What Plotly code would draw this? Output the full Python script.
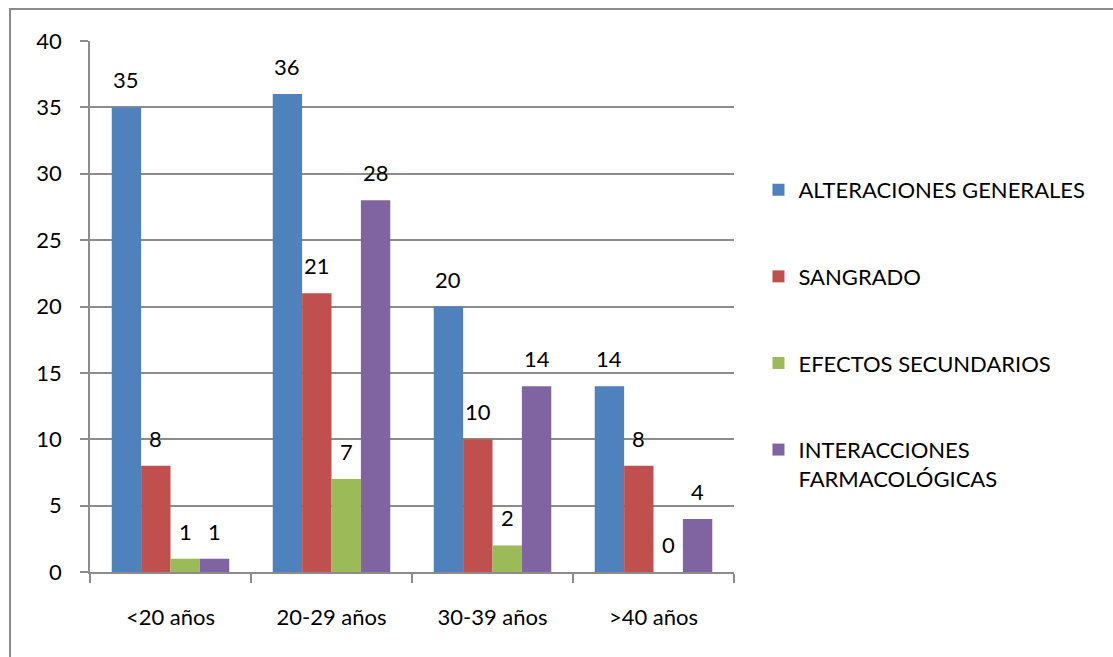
import plotly.graph_objects as go

# Age groups on the x axis
categorias = ["<20 años", "20-29 años", "30-39 años", ">40 años"]

# Counts per age group for each type of event
alteraciones_generales = [35, 36, 20, 14]
sangrado = [8, 21, 10, 8]
efectos_secundarios = [1, 7, 2, 0]
interacciones_farmacologicas = [1, 28, 14, 4]

series_nombres = [
    "ALTERACIONES GENERALES",
    "SANGRADO",
    "EFECTOS SECUNDARIOS",
    "INTERACCIONES<br>FARMACOLÓGICAS",
]
series_valores = [alteraciones_generales, sangrado, efectos_secundarios, interacciones_farmacologicas]
colores = ["#4F81BD", "#C0504D", "#9BBB59", "#8064A2"]

y_ticks = [0, 5, 10, 15, 20, 25, 30, 35, 40]

FONT = "Lato, 'Open Sans', sans-serif"
FS = 22
W, H = 1113, 657
M_L, M_R, M_T, M_B = 90, 379, 41, 85
BARGAP = 0.27
GRID = "#8C8C8C"

fig = go.Figure()
for i, (nombre, vals, col) in enumerate(zip(series_nombres, series_valores, colores)):
    fig.add_trace(go.Bar(
        x=categorias, y=vals, name=nombre,
        marker=dict(color=col, line=dict(width=0)),
        legendgroup=f"g{i}",
    ))

# Value labels above each bar: horizontal shift follows the grouped bar slots
plot_w = W - M_L - M_R
cat_w = plot_w / len(categorias)
bar_w = cat_w * (1 - BARGAP) / len(series_valores)
n = len(series_valores)
for i, vals in enumerate(series_valores):
    shift = (i - (n - 1) / 2) * bar_w
    for cat, v in zip(categorias, vals):
        fig.add_annotation(
            x=cat, y=v, text=str(v), showarrow=False,
            xanchor="center", yanchor="bottom",
            xshift=shift, yshift=12,
            font=dict(family=FONT, size=FS, color="black"),
        )

# Outer chart frame
fig.add_shape(
    type="rect", xref="paper", yref="paper",
    x0=(10 - M_L) / plot_w, x1=2.0,
    y0=-1.0, y1=(H - M_B - 9) / (H - M_T - M_B),
    line=dict(color="#8C8C8C", width=2), fillcolor="rgba(0,0,0,0)", layer="below",
)

fig.update_layout(
    width=W, height=H,
    margin=dict(l=M_L, r=M_R, t=M_T, b=M_B, autoexpand=False),
    paper_bgcolor="white", plot_bgcolor="white",
    barmode="group", bargap=BARGAP, bargroupgap=0,
    font=dict(family=FONT, size=FS, color="black"),
    showlegend=True,
    legend=dict(
        x=1.038, y=0.759, xanchor="left", yanchor="top",
        traceorder="grouped", tracegroupgap=55,
        font=dict(family=FONT, size=FS, color="black"),
        valign="top", bgcolor="rgba(0,0,0,0)",
    ),
    xaxis=dict(
        type="category", showline=True, linecolor=GRID, linewidth=1.5,
        ticks="outside", ticklen=9, tickcolor=GRID, tickwidth=1.5,
        tickson="boundaries", showgrid=False, ticklabelstandoff=25,
        tickfont=dict(family=FONT, size=FS),
    ),
    yaxis=dict(
        range=[0, 40], tickvals=y_ticks, showline=True, linecolor=GRID, linewidth=1.5,
        ticks="outside", ticklen=8, tickcolor=GRID, tickwidth=1.5,
        showgrid=True, gridcolor=GRID, gridwidth=1.5, zeroline=False,
        ticklabelstandoff=14, tickfont=dict(family=FONT, size=FS),
    ),
)

fig.write_html("out.html")
